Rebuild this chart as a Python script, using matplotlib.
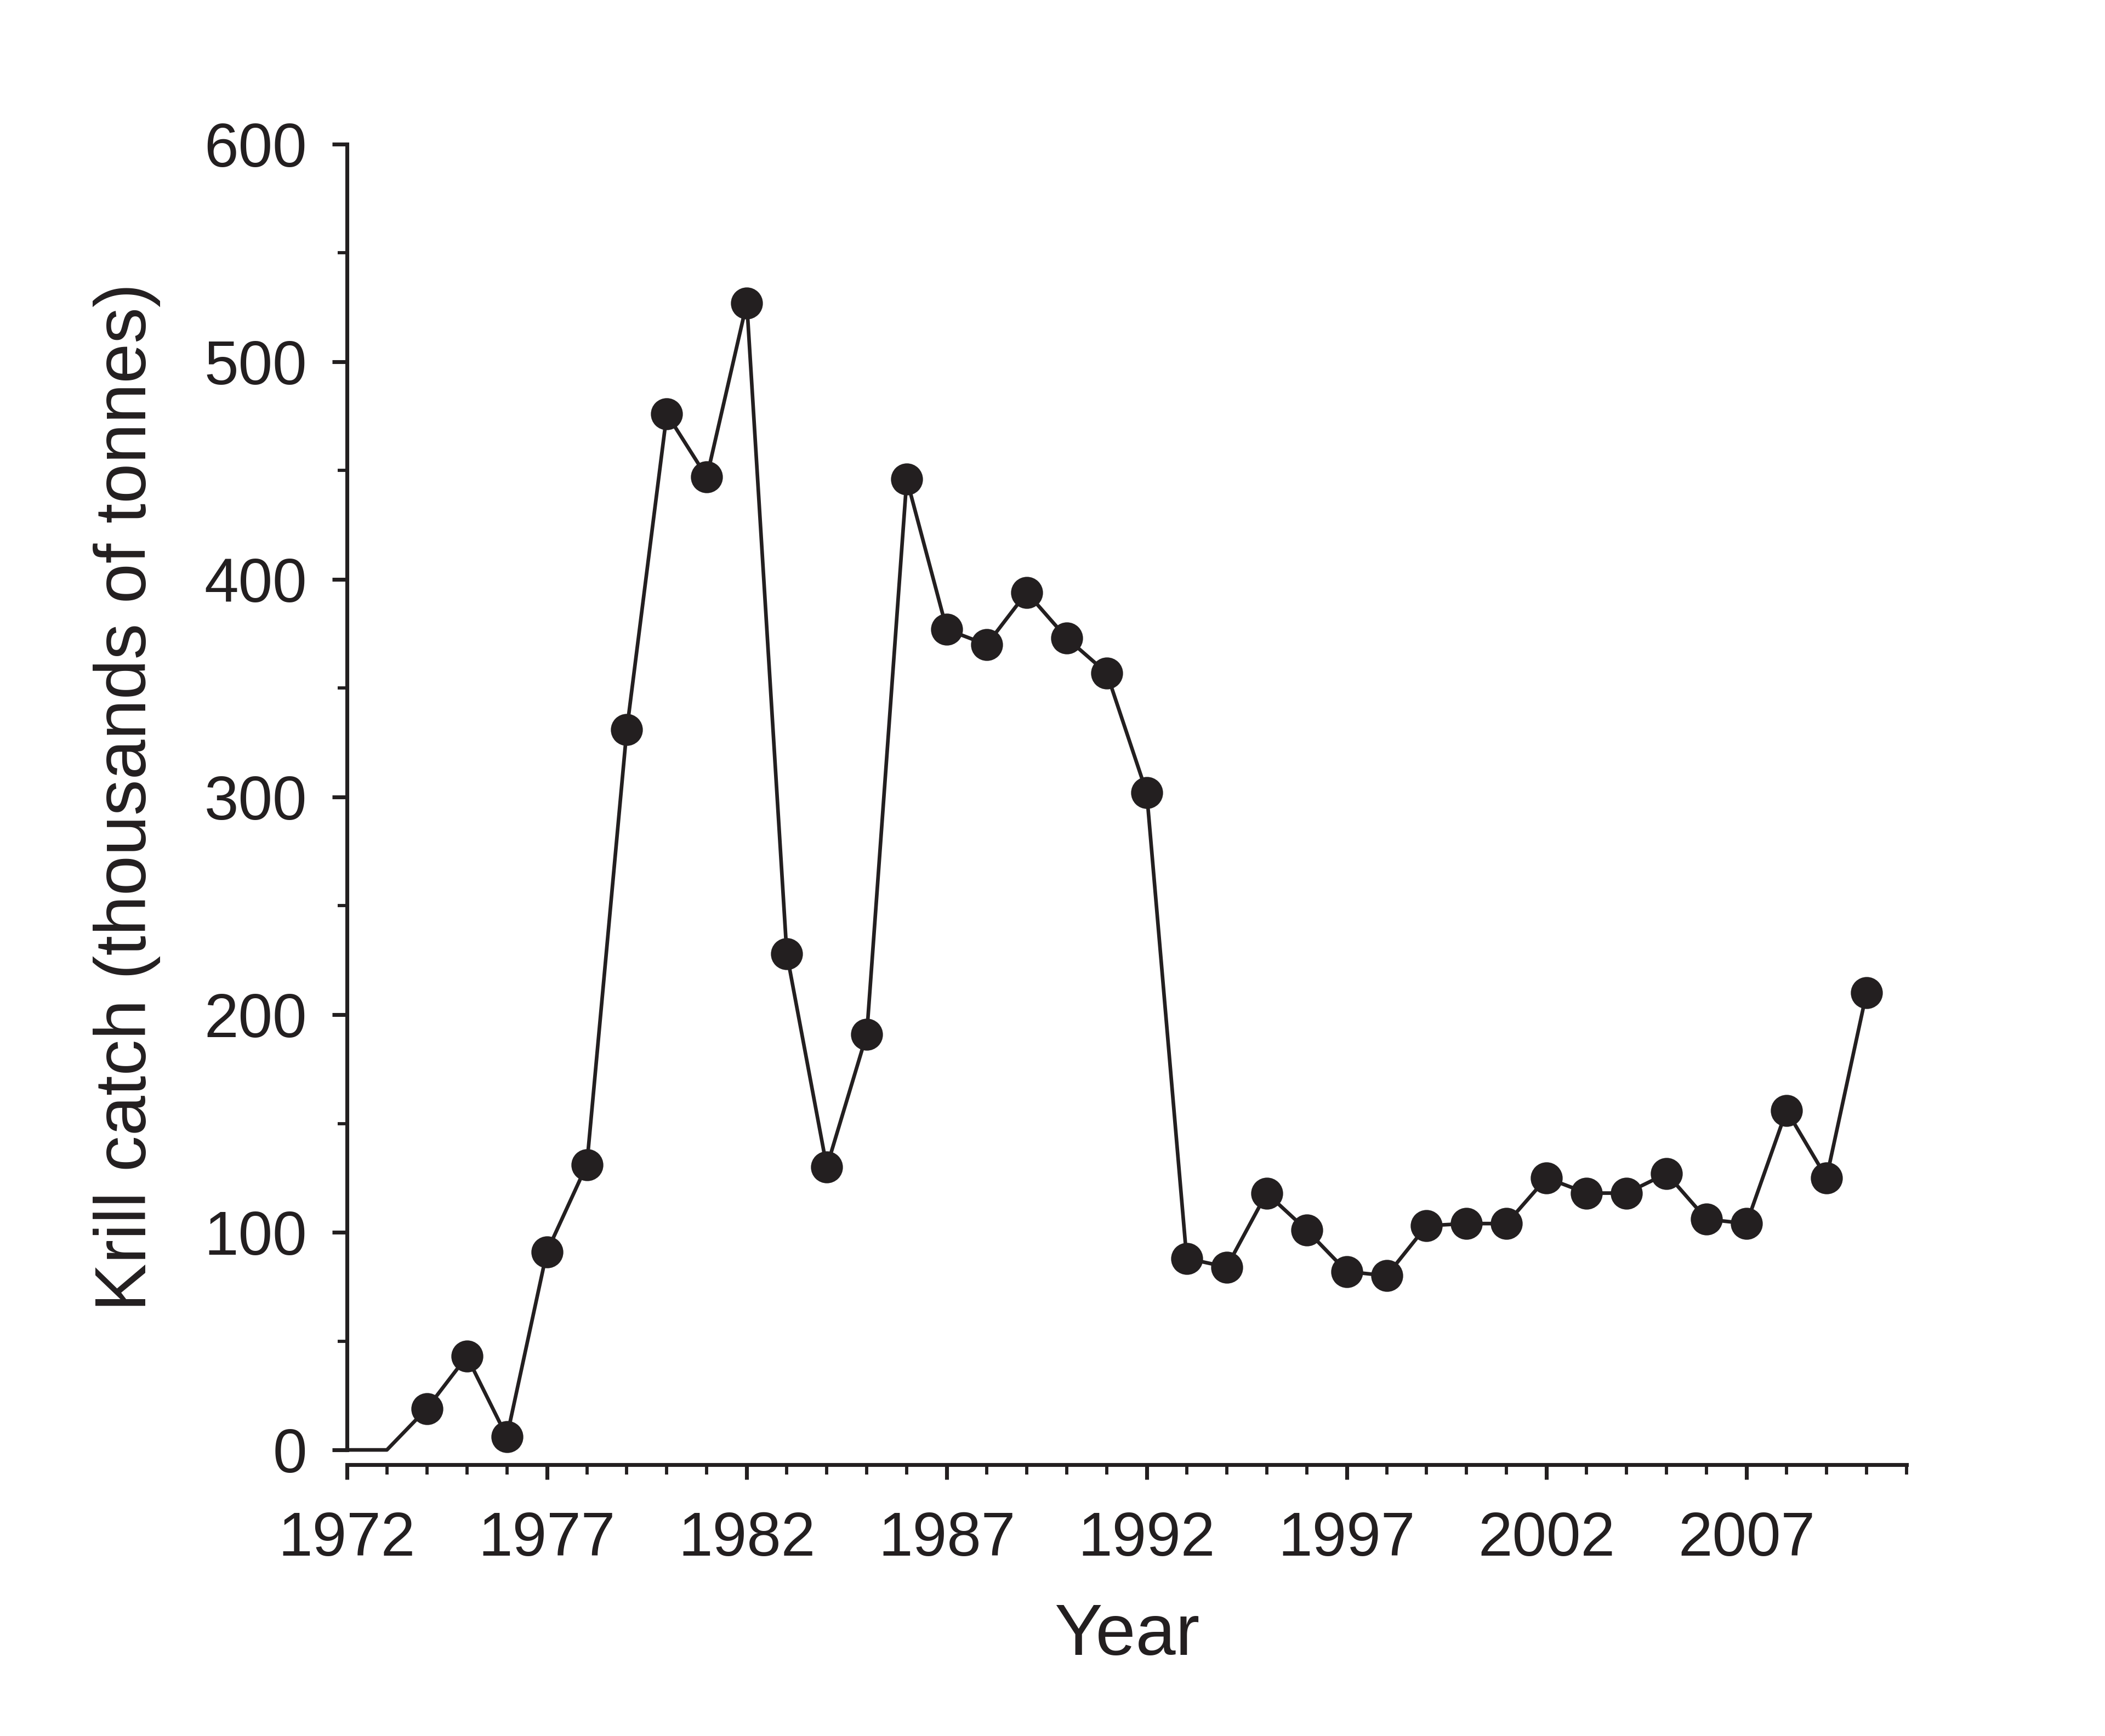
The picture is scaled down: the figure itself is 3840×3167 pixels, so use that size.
import matplotlib
matplotlib.use('Agg')
import matplotlib.pyplot as plt
from matplotlib.ticker import MultipleLocator

# data (thousands of tonnes)
years = list(range(1972, 2011))
catch = [0, 0, 19, 43, 6, 91, 131, 331, 476, 447, 527, 228, 130, 191,
         446, 377, 370, 394, 373, 357, 302, 88, 84, 118, 101, 82, 80,
         103, 104, 104, 125, 118, 118, 127, 106, 104, 156, 125, 210]
first_marker = 2  # 1972 and 1973 drawn as line only

x_ticks = [1972, 1977, 1982, 1987, 1992, 1997, 2002, 2007]
y_ticks = [0, 100, 200, 300, 400, 500, 600]

ink = '#231f20'
plt.rcParams['font.family'] = ['Liberation Sans', 'DejaVu Sans']

fig = plt.figure(figsize=(12.8, 10.5567), dpi=300)
ax = fig.add_axes([0.1648, 0.1648, 0.7409, 0.7522])

ax.plot(years, catch, color=ink, lw=1.6, marker='o', markersize=13,
        markevery=list(range(first_marker, len(years))), clip_on=False, zorder=3)

ax.set_xlim(1972, 2011)
ax.set_ylim(0, 600)
ax.set_xticks(x_ticks)
ax.set_yticks(y_ticks)
ax.xaxis.set_minor_locator(MultipleLocator(1))
ax.yaxis.set_minor_locator(MultipleLocator(50))

for s in ['top', 'right']:
    ax.spines[s].set_visible(False)
ax.spines['bottom'].set_position(('outward', 6.5))
for s in ['left', 'bottom']:
    ax.spines[s].set_linewidth(1.7)
    ax.spines[s].set_color(ink)

ax.tick_params(which='major', direction='out', length=6.5, width=1.7,
               colors=ink, labelsize=27)
ax.tick_params(which='minor', direction='out', length=4.2, width=1.4, colors=ink)
ax.tick_params(axis='x', which='major', pad=13.5)
ax.tick_params(axis='y', which='major', pad=11)

ax.set_xlabel('Year', fontsize=31.5, color=ink)
ax.set_ylabel('Krill catch (thousands of tonnes)', fontsize=31.5, color=ink)
ax.xaxis.set_label_coords(0.5, -0.1167)
ax.yaxis.set_label_coords(-0.1195, 0.5)

fig.savefig('out.png', dpi=300)
